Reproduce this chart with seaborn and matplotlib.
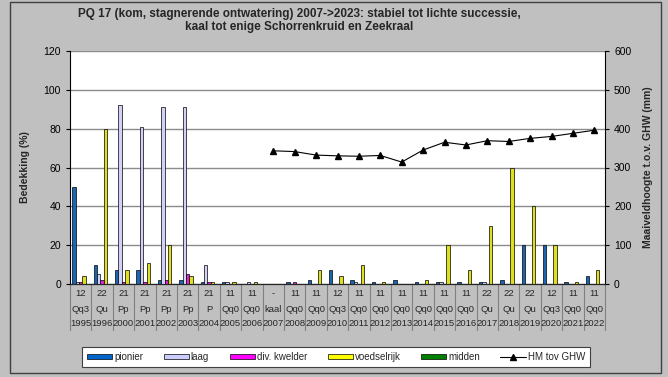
import matplotlib
matplotlib.use('Agg')
import matplotlib.pyplot as plt
import matplotlib.patches as mpatches
import matplotlib.lines as mlines
import matplotlib.transforms as mtransforms
import seaborn as sns
import pandas as pd
import numpy as np

years = ['1995', '1996', '2000', '2001', '2002', '2003', '2004', '2005', '2006', '2007',
         '2008', '2009', '2010', '2011', '2012', '2013', '2014', '2015', '2016', '2017',
         '2018', '2019', '2020', '2021', '2022']
codes = ['12', '22', '21', '21', '21', '21', '21', '11', '11', '-',
         '11', '11', '12', '11', '11', '11', '11', '11', '11', '22',
         '22', '22', '12', '11', '11']
types = ['Qq3', 'Qu', 'Pp', 'Pp', 'Pp', 'Pp', 'P', 'Qq0', 'Qq0', 'kaal',
         'Qq0', 'Qq0', 'Qq3', 'Qq0', 'Qq0', 'Qq0', 'Qq0', 'Qq0', 'Qq0', 'Qu',
         'Qu', 'Qu', 'Qq3', 'Qq0', 'Qq0']

pionier     = [50, 10, 7, 7, 2, 2, 1, 1, 0, 0, 1, 2, 7, 2, 1, 2, 1, 1, 1, 1, 2, 20, 20, 1, 4]
laag        = [1, 5, 92, 81, 91, 91, 10, 1, 1, 0, 0, 0, 0, 1, 0, 0, 0, 1, 0, 1, 0, 0, 0, 0, 0]
kwelder     = [1, 2, 1, 1, 2, 5, 1, 0, 0, 0, 1, 0, 0, 0, 0, 0, 0, 0, 0, 0, 0, 0, 0, 0, 0]
voedselrijk = [4, 80, 7, 11, 20, 4, 1, 1, 1, 0, 0, 7, 4, 10, 1, 0, 2, 20, 7, 30, 60, 40, 20, 1, 7]
midden      = [0] * 25
hm_ghw = [np.nan] * 9 + [343, 341, 332, 330, 329, 331, 314, 345, 365, 358,
                         369, 367, 375, 380, 388, 396]

series = ['pionier', 'laag', 'div. kwelder', 'voedselrijk', 'midden']
colors = ['#0066cc', '#ccccff', '#ff00ff', '#ffff00', '#008000']

df = pd.DataFrame({'year': years, 'pionier': pionier, 'laag': laag,
                   'div. kwelder': kwelder, 'voedselrijk': voedselrijk, 'midden': midden})
long = df.melt(id_vars='year', var_name='type', value_name='cover')

sns.set_style('white')
plt.rcParams['font.family'] = ['Liberation Sans', 'DejaVu Sans']

BG = '#c0c0c0'
fig = plt.figure(figsize=(6.68, 3.77), dpi=100, facecolor=BG)
ax = fig.add_axes([70/668, 1 - 284/377, 535/668, 233/377])
ax.set_facecolor('white')

sns.barplot(data=long, x='year', y='cover', hue='type', hue_order=series,
            palette=colors, order=years, width=0.8, edgecolor='black',
            linewidth=0.5, legend=False, ax=ax, zorder=3)

ax.set_ylim(0, 120)
ax.set_yticks(range(0, 121, 20))
ax.set_xlim(-0.5, len(years) - 0.5)
ax.yaxis.grid(True, color='#8c8c8c', linewidth=1)
ax.set_axisbelow(True)
ax.set_xlabel('')
ax.set_xticks([])
ax.set_ylabel('Bedekking (%)', fontsize=7.5, fontweight='bold', labelpad=10)
ax.tick_params(axis='y', labelsize=7.5, length=3, direction='out', left=True, colors='black')
ax.spines['top'].set_visible(False)
ax.spines['left'].set_color('black')
ax.spines['bottom'].set_color('black')
ax.spines['right'].set_visible(False)

ax2 = ax.twinx()
ax2.plot(np.arange(len(years)), hm_ghw, color='black', linewidth=0.8,
         marker='^', markersize=5, zorder=4)
ax2.set_ylim(0, 600)
ax2.set_yticks(range(0, 601, 100))
ax2.tick_params(axis='y', labelsize=7.5, length=3, direction='out', right=True, colors='black')
ax2.set_ylabel('Maaiveldhoogte t.o.v. GHW (mm)', fontsize=7.5, fontweight='bold', labelpad=8)
ax2.spines['top'].set_visible(False)
ax2.spines['left'].set_visible(False)
ax2.spines['right'].set_color('black')

# category table under axis
trans = mtransforms.blended_transform_factory(ax.transData, ax.transAxes)
for i in range(len(years)):
    ax.text(i, -10/233, codes[i], transform=trans, ha='center', va='center', fontsize=6.8)
    ax.text(i, -25/233, types[i], transform=trans, ha='center', va='center', fontsize=6.8)
    ax.text(i, -39/233, years[i], transform=trans, ha='center', va='center', fontsize=6.8)
for i in range(len(years) + 1):
    ax.plot([i - 0.5, i - 0.5], [0, -46/233], transform=trans, color='#808080',
            linewidth=0.8, clip_on=False)

fig.text(299/668, 1 - 14/377, 'PQ 17 (kom, stagnerende ontwatering) 2007->2023: stabiel tot lichte successie,',
         ha='center', va='center', fontsize=8.5, fontweight='bold')
fig.text(299/668, 1 - 27/377, 'kaal tot enige Schorrenkruid en Zeekraal',
         ha='center', va='center', fontsize=8.5, fontweight='bold')

handles = [mpatches.Patch(facecolor=c, edgecolor='black', linewidth=0.5, label=s)
           for s, c in zip(series, colors)]
handles.append(mlines.Line2D([], [], color='black', marker='^', markersize=4,
                             linewidth=0.8, label='HM tov GHW'))
leg = fig.legend(handles=handles, loc='center', bbox_to_anchor=(336/668, 1 - 357/377),
                 ncol=6, fontsize=7, frameon=True, fancybox=False, edgecolor='#404040',
                 framealpha=1, handlelength=2.6, handleheight=0.5, handletextpad=0.2,
                 columnspacing=2.1, borderpad=0.5)
leg.get_frame().set_facecolor('white')
leg.get_frame().set_linewidth(0.8)

fig.patches.append(mpatches.Rectangle((10/668, 4/377), 651/668, 371/377, transform=fig.transFigure,
                                      fill=False, edgecolor='#404040', linewidth=1))

fig.savefig('out.png', dpi=100, facecolor=fig.get_facecolor())
